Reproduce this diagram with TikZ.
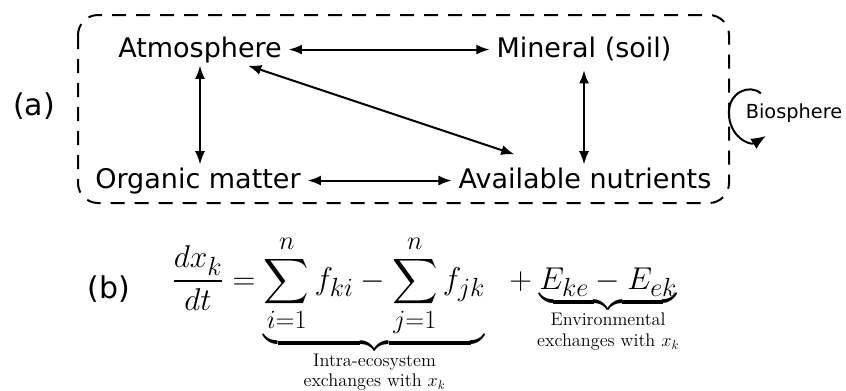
\documentclass[tikz,border=0pt]{standalone}
\usepackage{amsmath,amssymb}
\usepackage{fontspec}
\newfontfamily\dejavu{DejaVu Sans}
\usetikzlibrary{arrows.meta,positioning,calc}
\tikzset{pool/.style={font=\dejavu\fontsize{20.25}{24}\selectfont,inner xsep=5pt,inner ysep=2pt},
 panel/.style={font=\dejavu\fontsize{22.5}{27}\selectfont,inner sep=0pt},
 flux/.style={{Latex[length=10pt,width=7.5pt]}-{Latex[length=10pt,width=7.5pt]},line width=1.5pt},
 recycle/.style={-{Latex[length=11pt,width=9pt]},line width=1.5pt},
 sysbox/.style={line width=1.5pt,dash pattern=on 10.5pt off 7.5pt,rounded corners=15pt}}
\newcommand{\bracenote}[2]{\substack{\text{\Large #1}\\ \text{\Large #2}}}
\begin{document}
\begin{tikzpicture}[x=0.75pt,y=-0.75pt]
\useasboundingbox (0,0) rectangle (846,390);
% (a) compartments
\draw[sysbox] (78,15) rectangle (729,203);
\node[pool,anchor=base] (atm) at (200,57) {Atmosphere};
\node[pool,anchor=base] (min) at (584,57) {Mineral (soil)};
\node[pool,anchor=base] (org) at (198,188) {Organic matter};
\node[pool,anchor=base] (avail) at (585,188) {Available nutrients};
\node[panel] (pa) at (34,106) {(a)};
\draw[flux] (atm.east) -- (atm.east -| min.west);
\draw[flux] (org.east) -- (org.east -| avail.west);
\draw[flux] (atm.south) -- (atm.south |- org.north);
\draw[flux,shorten <=5pt] (min.south) -- (min.south |- avail.north);
\draw[flux,shorten >=24pt] (atm) -- (avail);
% biosphere loop
\node[font=\dejavu\fontsize{14.5}{17}\selectfont,inner sep=2pt,anchor=base] (bio) at (794,118) {Biosphere};
\coordinate (loopstart) at ($(bio.north west)+(18,-7)$);
\coordinate (loopleft) at ($(bio.west)+(-14,0)$);
\coordinate (loopend) at ($(bio.south west)+(23,11)$);
\draw[recycle] (loopstart) .. controls +(-12,-10) and +(0,-20) .. (loopleft)
 .. controls +(0,24) and +(-16,10) .. (loopend);
% (b) balance equation
\node[panel] (pb) at (109,289) {(b)};
\node[anchor=base west,inner sep=0pt,font=\Huge] (eq) at (172,289)
 {\scalebox{0.95}{$\displaystyle \frac{dx_k}{dt} = \underbrace{\sum_{i=1}^{n} f_{ki} - \sum_{j=1}^{n} f_{jk}}_{\bracenote{Intra-ecosystem}{exchanges with $x_k$}}\hspace{0.6em} + \underbrace{E_{ke} - E_{ek}}_{\bracenote{Environmental}{exchanges with $x_k$}}$}};
\end{tikzpicture}
\end{document}
